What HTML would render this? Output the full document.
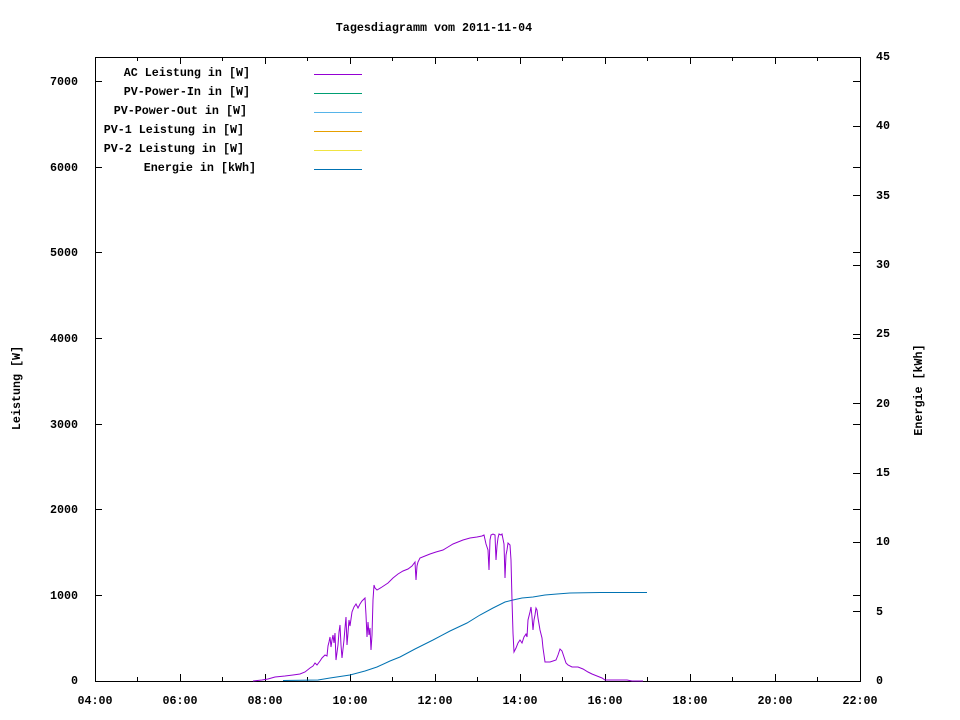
<!DOCTYPE html>
<html><head><meta charset="utf-8"><style>
html,body{margin:0;padding:0;background:#fff;}
svg{display:block;}
text{font-family:"Liberation Mono","DejaVu Sans Mono",monospace;font-size:11.7px;font-weight:bold;fill:#000;}
</style></head><body>
<svg width="960" height="720" viewBox="0 0 960 720" xmlns="http://www.w3.org/2000/svg">
<text x="434" y="31" text-anchor="middle">Tagesdiagramm vom 2011-11-04</text>
<g stroke="#000" stroke-width="1" fill="none" shape-rendering="crispEdges">
<rect x="95.5" y="57.5" width="765" height="624"/>
<path d="M95 595.5h7M95 509.5h7M95 424.5h7M95 338.5h7M95 252.5h7M95 167.5h7M95 81.5h7
M860 595.5h-7M860 509.5h-7M860 424.5h-7M860 338.5h-7M860 252.5h-7M860 167.5h-7M860 81.5h-7
M860 611.5h-7M860 542.5h-7M860 473.5h-7M860 403.5h-7M860 334.5h-7M860 265.5h-7M860 195.5h-7M860 126.5h-7"/>
<path d="M180.5 681v-7M265.5 681v-7M350.5 681v-7M435.5 681v-7M520.5 681v-7M605.5 681v-7M690.5 681v-7M775.5 681v-7
M137.5 681v-4M222.5 681v-4M307.5 681v-4M392.5 681v-4M477.5 681v-4M562.5 681v-4M647.5 681v-4M732.5 681v-4M817.5 681v-4
M180.5 57v7M265.5 57v7M350.5 57v7M435.5 57v7M520.5 57v7M605.5 57v7M690.5 57v7M775.5 57v7
M137.5 57v4M222.5 57v4M307.5 57v4M392.5 57v4M477.5 57v4M562.5 57v4M647.5 57v4M732.5 57v4M817.5 57v4"/>
</g>
<g text-anchor="end">
<text x="78" y="684">0</text><text x="78" y="599">1000</text><text x="78" y="513">2000</text>
<text x="78" y="428">3000</text><text x="78" y="342">4000</text><text x="78" y="256">5000</text>
<text x="78" y="171">6000</text><text x="78" y="85">7000</text>
</g>
<g text-anchor="start">
<text x="876" y="684">0</text><text x="876" y="615">5</text><text x="876" y="545">10</text>
<text x="876" y="476">15</text><text x="876" y="407">20</text><text x="876" y="337">25</text>
<text x="876" y="268">30</text><text x="876" y="199">35</text><text x="876" y="129">40</text>
<text x="876" y="60">45</text>
</g>
<g text-anchor="middle">
<text x="95" y="704">04:00</text><text x="180" y="704">06:00</text><text x="265" y="704">08:00</text>
<text x="350" y="704">10:00</text><text x="435" y="704">12:00</text><text x="520" y="704">14:00</text>
<text x="605" y="704">16:00</text><text x="690" y="704">18:00</text><text x="775" y="704">20:00</text>
<text x="860" y="704">22:00</text>
</g>
<text transform="translate(20,388) rotate(-90)" text-anchor="middle">Leistung [W]</text>
<text transform="translate(922,390) rotate(-90)" text-anchor="middle">Energie [kWh]</text>
<g text-anchor="end">
<text x="250" y="76">AC Leistung in [W]</text>
<text x="250" y="95">PV-Power-In in [W]</text>
<text x="247" y="114">PV-Power-Out in [W]</text>
<text x="244" y="133">PV-1 Leistung in [W]</text>
<text x="244" y="152">PV-2 Leistung in [W]</text>
<text x="256" y="171">Energie in [kWh]</text>
</g>
<g stroke-width="1" shape-rendering="crispEdges">
<line x1="314" y1="74.5" x2="362" y2="74.5" stroke="#9400d3"/>
<line x1="314" y1="93.5" x2="362" y2="93.5" stroke="#009e73"/>
<line x1="314" y1="112.5" x2="362" y2="112.5" stroke="#56b4e9"/>
<line x1="314" y1="131.5" x2="362" y2="131.5" stroke="#e69f00"/>
<line x1="314" y1="150.5" x2="362" y2="150.5" stroke="#f0e442"/>
<line x1="314" y1="169.5" x2="362" y2="169.5" stroke="#0072b2"/>
</g>
<polyline fill="none" stroke="#0072b2" stroke-width="1" points="283,680.5 318,680 330,678 350,675 365,671 377,667 390,661 400,657 415,649 433,640 450,631 467,623 480,615 493,608 505,602 513,600 522,598 533,597 545,595 557,594 570,593 600,592.5 647,592.5"/>
<polyline fill="none" stroke="#9400d3" stroke-width="1" points="253,681 262,680 268,679 275,677 285,676 293,675 300,674 305,672 310,668 313,666 315,663 317,665 320,661 322,658 325,655 327,656 328,646 329,642 330,637 331,647 332,640 333,635 334,643 335,633 336,660 338,645 339,632 340,625 341,645 342,658 344,640 345,628 346,617 347,645 348,633 349,620 350,626 352,612 354,607 356,604 358,608 360,604 362,601 365,598 366,615 367,637 368,622 369,635 370,628 371,650 372,635 373,600 374,585 375,588 377,590 382,587 388,583 393,578 398,574 403,571 408,569 412,566 415,562 416,580 417,566 418,562 420,558 425,556 430,554 436,552 443,550 448,547 453,544 458,542 463,540 470,538 477,537 482,536 484,535 486,544 488,550 489,570 490,540 491,535 493,534 495,535 496,560 497,546 498,538 499,534 501,535 502,534 504,544 505,578 506,555 507,550 508,543 510,545 511,560 512,600 513,633 514,652 516,648 518,643 520,640 522,643 524,637 526,634 527,637 528,620 530,612 531,607 532,617 533,630 534,620 535,615 536,608 537,610 538,618 540,630 542,638 543,648 545,662 550,662 553,661 556,660 558,655 560,649 562,651 564,657 566,663 568,665 572,667 578,667 583,669 588,672 592,674 597,676 602,678 605,680 610,680 617,680 622,680 627,680 632,681 643,681"/>
</svg>
</body></html>
